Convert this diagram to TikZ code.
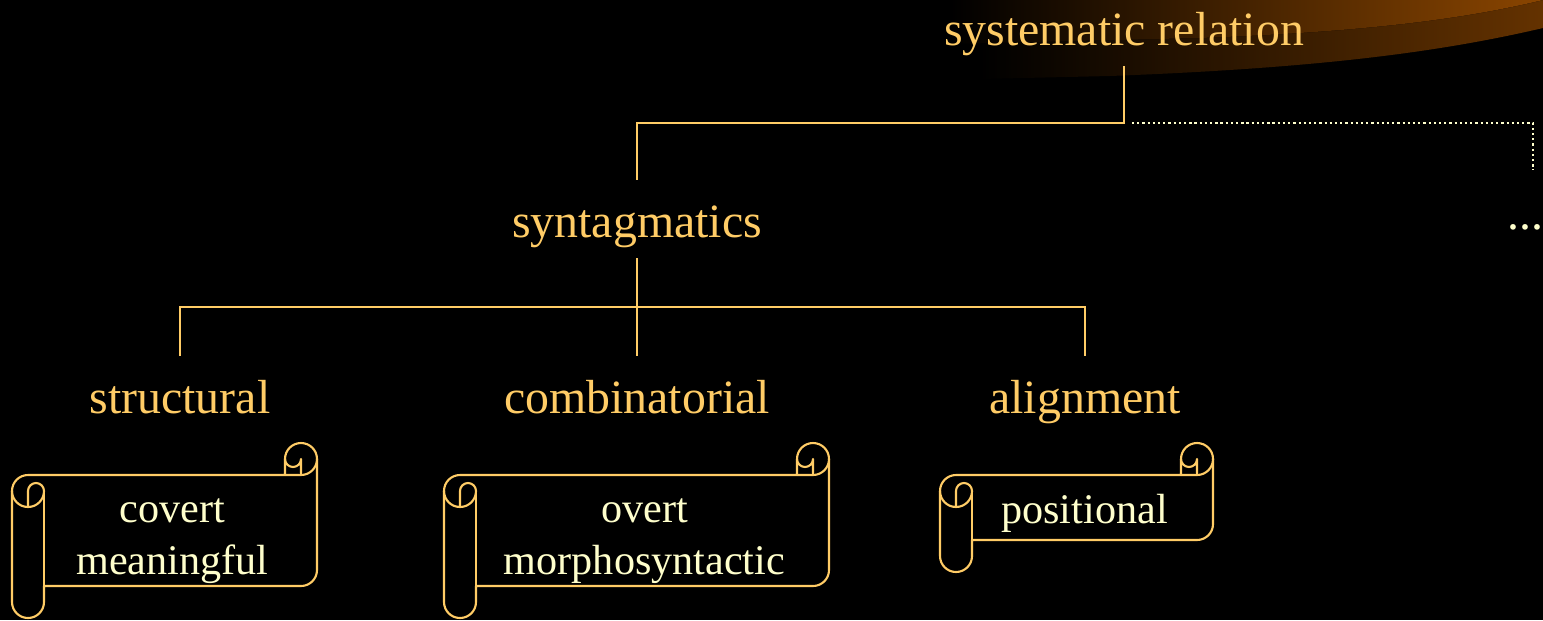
\documentclass[tikz,border=0pt]{standalone}
\usepackage{fontspec}
\setmainfont{Liberation Serif}
\definecolor{gold}{HTML}{FFCC66}
\definecolor{cream}{HTML}{FFFFCC}
\definecolor{swooshLight}{HTML}{8A4500}
\definecolor{swooshDark}{HTML}{643200}

% Horizontal scroll frame, given left, top, right, bottom (roll size 32)
\newcommand{\scrollframe}[4]{%
  \draw[scrollline] (#1,#2+48) arc[start angle=180,end angle=270,radius=16]
    -- (#3-32,#2+32) -- (#3-32,#2+16) arc[start angle=180,end angle=360,radius=16]
    -- (#3,#4-48) arc[start angle=0,end angle=90,radius=16]
    -- (#1+32,#4-32) -- (#1+32,#4-16) arc[start angle=0,end angle=180,radius=16]
    -- cycle;
  \draw[scrollline] (#3-32,#2+32) -- (#3-16,#2+32) arc[start angle=90,end angle=0,radius=16];
  \draw[scrollline] (#3-16,#2+32) -- (#3-16,#2+16) arc[start angle=0,end angle=180,radius=8];
  \draw[scrollline] (#1+16,#2+64) -- (#1+16,#2+48)
    arc[start angle=180,end angle=360,radius=8]
    arc[start angle=0,end angle=180,radius=16];
  \draw[scrollline] (#1+32,#2+48) -- (#1+32,#4-32);
}

\begin{document}
\begin{tikzpicture}[x=0.025cm,y=-0.025cm,
  tree/.style={draw=gold, line width=1.9pt},
  dotline/.style={draw=cream, line width=1.6pt, dash pattern=on 1.6pt off 2.1pt},
  scrollline/.style={draw=gold, line width=1.5pt, fill=black, line join=round},
  heading/.style={text=gold, inner sep=0pt, font=\fontsize{34pt}{40pt}\selectfont},
  scrolltext/.style={text=cream, inner sep=0pt, align=center,
    font=\fontsize{30pt}{37pt}\selectfont}]

% page and background
\useasboundingbox (0,0) rectangle (1543,620);
\fill[black] (0,0) rectangle (1543,620);

% swoosh in the upper right corner
\fill[left color=black, right color=swooshDark]
  (980,0) -- (1543,0) -- (1543,28)
  .. controls (1440,52) and (1320,68) .. (1110,76) -- (980,79) -- cycle;
\fill[left color=black, right color=swooshLight]
  (950,0) -- (1543,0)
  .. controls (1460,20) and (1360,32) .. (1200,38) -- (950,44) -- cycle;

% labels of the tree
\node[heading, anchor=base] (sr) at (1124,45) {systematic relation};
\node[heading, anchor=base] (syn) at (637,237) {syntagmatics};
\node[heading, anchor=base] (str) at (180,413) {structural};
\node[heading, anchor=base] (comb) at (637,413) {combinatorial};
\node[heading, anchor=base] (align) at (1085,413) {alignment};
\node[text=cream, inner sep=0pt, anchor=base, font=\fontsize{34pt}{40pt}\selectfont]
  (more) at (1525,229) {...};

% connector ends
\coordinate (srStem) at (1124,66);
\coordinate (synTop) at (637,180);
\coordinate (synStem) at (637,258);
\coordinate (strTop) at (180,356);
\coordinate (combTop) at (637,356);
\coordinate (alignTop) at (1085,356);
\coordinate (moreFrom) at (1132,123);
\coordinate (moreTop) at (1533,170);

% connectors
\draw[tree] (srStem) -- ++(0,57) -| (synTop);
\draw[dotline] (moreFrom) -| (moreTop);
\draw[tree] (synStem) -- (combTop);
\draw[tree] (strTop) -- ++(0,-49) -| (alignTop);

% scrolls with their texts
\scrollframe{12}{443}{317}{618}
\scrollframe{444}{443}{829}{618}
\scrollframe{940}{443}{1213}{572}
\node[scrolltext] (covert) at (172.5,541) {covert\\meaningful};
\node[scrolltext] (overt) at (644.5,541) {overt\\morphosyntactic};
\node[scrolltext, anchor=base] (pos) at (1084.5,523) {positional};
\end{tikzpicture}
\end{document}
